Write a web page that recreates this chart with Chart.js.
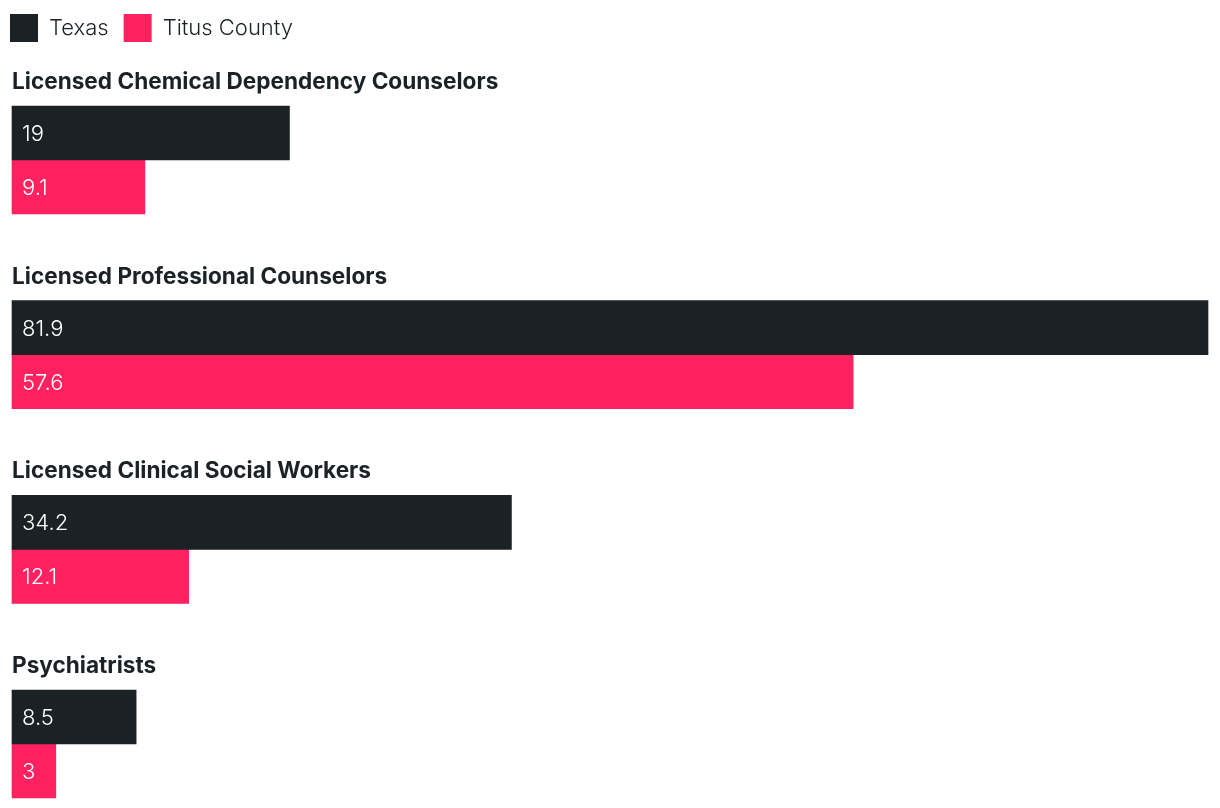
<!DOCTYPE html>
<html>
<head>
<meta charset="utf-8">
<script src="https://cdn.jsdelivr.net/npm/chart.js@4"></script>
<style>
  html, body { margin: 0; padding: 0; background: #fff; }
  #wrap { width: 1220px; height: 808px; }
</style>
</head>
<body>
<div id="wrap"><canvas id="myChart"></canvas></div>
<script>
const categorie = [
  'Licensed Chemical Dependency Counselors',
  'Licensed Professional Counselors',
  'Licensed Clinical Social Workers',
  'Psychiatrists'
];
const texas = [19, 81.9, 34.2, 8.5];
const titus = [9.1, 57.6, 12.1, 3];

const scuro = '#1b2226';
const rosa = '#ff2160';

// titoli sopra ogni gruppo + valori dentro le barre
const etichette = {
  id: 'etichette',
  afterDatasetsDraw(chart) {
    const ctx = chart.ctx;
    const y = chart.scales.y;
    ctx.save();
    ctx.textAlign = 'left';
    ctx.textBaseline = 'alphabetic';
    ctx.fillStyle = scuro;
    ctx.font = '700 22.6px Inter';
    categorie.forEach((c, i) => {
      ctx.fillText(c, chart.chartArea.left, y.getPixelForValue(i) - 71);
    });
    ctx.fillStyle = '#fff';
    ctx.font = '300 22px Inter';
    chart.data.datasets.forEach((ds, d) => {
      const meta = chart.getDatasetMeta(d);
      meta.data.forEach((bar, i) => {
        ctx.fillText(String(ds.data[i]), bar.base + 10, bar.y + 8);
      });
    });
    ctx.restore();
  }
};

var ctx = document.getElementById('myChart').getContext('2d');
var chart = new Chart(ctx, {
  type: 'bar',
  data: {
    labels: categorie,
    datasets: [
      { label: 'Texas', data: texas, backgroundColor: scuro, clip: false },
      { label: 'Titus County', data: titus, backgroundColor: rosa, clip: false }
    ]
  },
  options: {
    indexAxis: 'y',
    responsive: true,
    maintainAspectRatio: false,
    animation: false,
    barThickness: 54,
    layout: { padding: { top: -1, right: 12, bottom: 64, left: -5 } },
    scales: {
      x: {
        position: 'top',
        min: 0,
        max: 81.9,
        grid: { display: false },
        border: { display: false },
        ticks: { display: false },
        afterFit(s) { s.height = 108; }
      },
      y: {
        offset: false,
        grid: { display: false },
        border: { display: false },
        ticks: { display: false },
        afterFit(s) { s.width = 17; }
      }
    },
    plugins: {
      legend: {
        position: 'top',
        align: 'start',
        labels: {
          boxWidth: 28,
          boxHeight: 28,
          padding: 15,
          color: scuro,
          font: { family: 'Inter', size: 22, weight: '300' }
        }
      },
      tooltip: { enabled: false }
    }
  },
  plugins: [etichette]
});
</script>
</body>
</html>
